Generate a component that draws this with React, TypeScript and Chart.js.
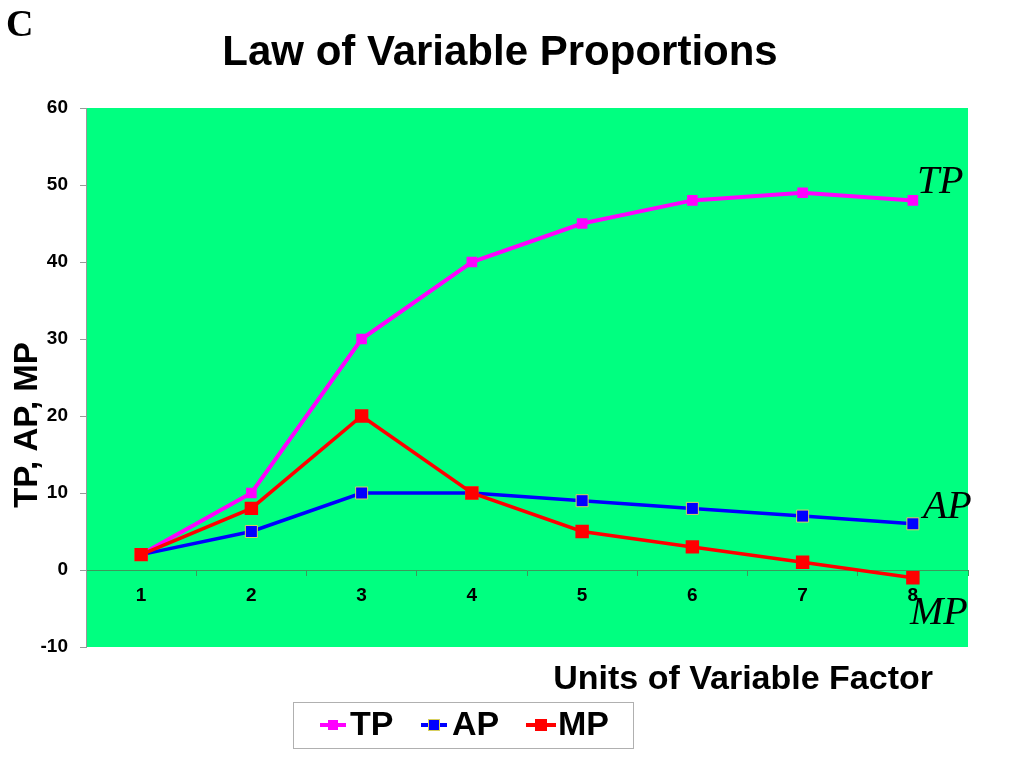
import React, { useEffect, useRef } from "react";
import { Chart, registerables } from "chart.js";

Chart.register(...registerables);

const categories = ["1", "2", "3", "4", "5", "6", "7", "8"];
const tpValues = [2, 10, 30, 40, 45, 48, 49, 48];
const apValues = [2, 5, 10, 10, 9, 8, 7, 6];
const mpValues = [2, 8, 20, 10, 5, 3, 1, -1];
const seriesNames = ["TP", "AP", "MP"];
const seriesColors = ["#FF00FF", "#0000FF", "#FF0000"];
const chartTitle = "Law of Variable Proportions";
const xTitle = "Units of Variable Factor";
const yTitle = "TP, AP, MP";
const cornerLabel = "C";
const Y_MIN = -10;
const Y_MAX = 60;
const Y_STEP = 10;

const SANS = '"Liberation Sans", Arial, sans-serif';
const SERIF = '"Liberation Serif", "Times New Roman", serif';

const decorPlugin = {
  id: "decor",
  beforeDraw(chart: any) {
    const { ctx, chartArea } = chart;
    const { left, top, right, bottom } = chartArea;
    ctx.save();
    ctx.fillStyle = "#00FF80";
    ctx.fillRect(left, top, right - left, bottom - top);
    ctx.restore();
  },
  afterDraw(chart: any) {
    const { ctx } = chart;
    const xs = chart.scales.x;
    const ys = chart.scales.y;
    ctx.save();
    ctx.fillStyle = "#000";
    ctx.textBaseline = "middle";

    // title
    ctx.font = `bold 42px ${SANS}`;
    ctx.textAlign = "center";
    ctx.fillText(chartTitle, 500, 53);

    // corner letter
    ctx.font = `bold 38px ${SERIF}`;
    ctx.textAlign = "left";
    ctx.fillText(cornerLabel, 6, 26);

    // y title
    ctx.save();
    ctx.translate(28, 425);
    ctx.rotate(-Math.PI / 2);
    ctx.font = `bold 33px ${SANS}`;
    ctx.textAlign = "center";
    ctx.fillText(yTitle, 0, 0);
    ctx.restore();

    // x title
    ctx.font = `bold 34px ${SANS}`;
    ctx.textAlign = "right";
    ctx.fillText(xTitle, 933, 680);

    // series labels near last points
    const last = categories.length - 1;
    const lx = xs.getPixelForValue(last);
    ctx.font = `italic 40px ${SERIF}`;
    ctx.textAlign = "left";
    ctx.textBaseline = "alphabetic";
    ctx.fillText(seriesNames[0], lx + 4, ys.getPixelForValue(tpValues[last]) - 7);
    ctx.fillText(seriesNames[1], lx + 10, ys.getPixelForValue(apValues[last]) - 6);
    ctx.fillText(seriesNames[2], lx - 3, ys.getPixelForValue(mpValues[last]) + 46);

    // legend box
    ctx.fillStyle = "#fff";
    ctx.fillRect(293, 702, 340, 46);
    ctx.strokeStyle = "#b0b0b0";
    ctx.lineWidth = 1;
    ctx.strokeRect(293.5, 702.5, 340, 46);
    const items = [
      { x1: 320, x2: 346, text: 350, size: 10, border: null },
      { x1: 421, x2: 447, text: 452, size: 11, border: "#d8d060" },
      { x1: 526, x2: 556, text: 558, size: 12, border: null },
    ];
    const cy = 725;
    items.forEach((it, i) => {
      ctx.strokeStyle = seriesColors[i];
      ctx.lineWidth = 4;
      ctx.beginPath();
      ctx.moveTo(it.x1, cy);
      ctx.lineTo(it.x2, cy);
      ctx.stroke();
      const mx = (it.x1 + it.x2) / 2;
      ctx.fillStyle = seriesColors[i];
      ctx.fillRect(mx - it.size / 2, cy - it.size / 2, it.size, it.size);
      if (it.border) {
        ctx.strokeStyle = it.border;
        ctx.lineWidth = 1;
        ctx.strokeRect(mx - it.size / 2, cy - it.size / 2, it.size, it.size);
      }
      ctx.fillStyle = "#000";
      ctx.font = `bold 34px ${SANS}`;
      ctx.textAlign = "left";
      ctx.textBaseline = "middle";
      ctx.fillText(seriesNames[i], it.text, cy + 1);
    });
    ctx.restore();
  },
};

export default function App() {
  const canvasRef = useRef<HTMLCanvasElement | null>(null);

  useEffect(() => {
    const canvas = canvasRef.current;
    if (!canvas) return;
    Chart.defaults.font.family = SANS;
    const chart = new Chart(canvas, {
      type: "line",
      data: {
        labels: categories,
        datasets: [
          {
            label: seriesNames[0],
            data: tpValues,
            borderColor: seriesColors[0],
            backgroundColor: seriesColors[0],
            borderWidth: 4,
            pointStyle: "rect",
            pointRadius: 7.5,
            pointBorderWidth: 0,
            tension: 0,
            order: 2,
          },
          {
            label: seriesNames[1],
            data: apValues,
            borderColor: seriesColors[1],
            backgroundColor: seriesColors[1],
            pointBorderColor: "#d8d060",
            borderWidth: 3.5,
            pointStyle: "rect",
            pointRadius: 8.5,
            pointBorderWidth: 1,
            tension: 0,
            order: 1,
          },
          {
            label: seriesNames[2],
            data: mpValues,
            borderColor: seriesColors[2],
            backgroundColor: seriesColors[2],
            borderWidth: 3.5,
            pointStyle: "rect",
            pointRadius: 9.5,
            pointBorderWidth: 0,
            tension: 0,
            order: 0,
          },
        ],
      },
      options: {
        animation: false,
        responsive: false,
        maintainAspectRatio: false,
        layout: { padding: { left: 0, right: 56, top: 108, bottom: 121 } },
        plugins: {
          legend: { display: false },
          title: { display: false },
          tooltip: { enabled: false },
        },
        scales: {
          x: {
            type: "category",
            offset: true,
            position: { y: 0 } as any,
            grid: {
              offset: true,
              drawOnChartArea: false,
              drawTicks: true,
              tickLength: 5,
              color: "#3a9a5a",
            },
            border: { display: true, color: "#3a9a5a", width: 1 },
            ticks: {
              color: "#000",
              font: { size: 19, weight: "bold", family: SANS },
              padding: 9,
              maxRotation: 0,
            },
          },
          y: {
            min: Y_MIN,
            max: Y_MAX,
            afterFit(scale: any) {
              scale.width = 86;
            },
            grid: {
              drawOnChartArea: false,
              drawTicks: true,
              tickLength: 6,
              color: "#999",
            },
            border: { display: true, color: "#999", width: 1 },
            ticks: {
              stepSize: Y_STEP,
              color: "#000",
              font: { size: 19, weight: "bold", family: SANS },
              padding: 12,
            },
          },
        },
      },
      plugins: [decorPlugin],
    });
    return () => chart.destroy();
  }, []);

  return (
    <div style={{ position: "fixed", left: 0, top: 0, width: 1024, height: 768, background: "#fff" }}>
      <canvas ref={canvasRef} width={1024} height={768} style={{ width: 1024, height: 768 }} />
    </div>
  );
}
